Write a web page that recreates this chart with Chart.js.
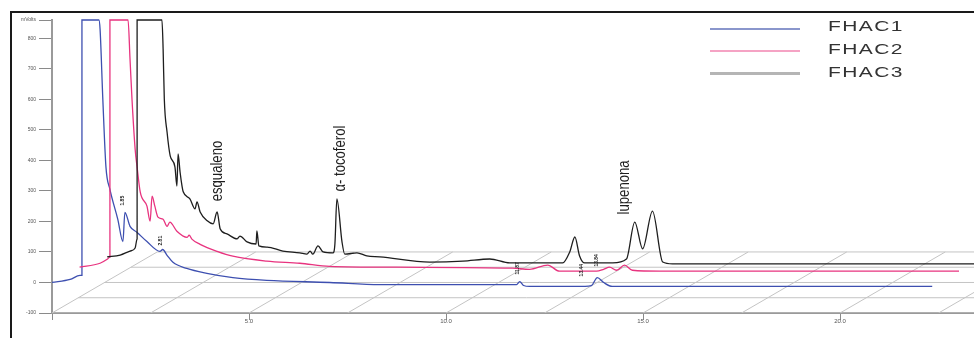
<!DOCTYPE html>
<html>
<head>
<meta charset="utf-8">
<script src="https://cdn.jsdelivr.net/npm/chart.js@4.4.1/dist/chart.umd.min.js"></script>
<style>
  html, body { margin: 0; padding: 0; background: #fff; }
  #wrap { position: relative; width: 974px; height: 338px; overflow: hidden; }
  #frame { position: absolute; left: 10px; top: 11px; width: 990px; height: 360px;
           border-left: 2px solid #1a1a1a; border-top: 2px solid #1a1a1a; }
  #box { position: absolute; left: 0; top: 0; width: 974px; height: 338px; }
  #legend { position: absolute; left: 710px; top: 0; font-family: 'Liberation Sans', Arial, sans-serif; }
  .lg-line { position: absolute; left: 0; width: 90px; }
  .lg-text { position: absolute; left: 118px; font-size: 15px; line-height: 18px;
             letter-spacing: 1px; color: #333; white-space: nowrap;
             transform: scaleX(1.4); transform-origin: left center; }
</style>
</head>
<body>
<div id="wrap">
  <div id="frame"></div>
  <div id="box"><canvas id="chart"></canvas></div>
  <div id="legend"></div>
</div>
<script>
// ---- data (retention time in min, signal in mV, each trace in its own frame) ----
const seriesNames = ['FHAC1', 'FHAC2', 'FHAC3'];
const seriesColors = ['#3d4fb0', '#e8337f', '#1e1e1e'];
const legendColors = ['#8a96cc', '#f5a3c4', '#b5b5b5'];
// 3D offset of each trace (depth)
const seriesShiftT = [0, 0.70, 1.40];
const seriesShiftV = [0, 50, 100];

const blueTimes = [0, 0.46, 0.71, 0.76, 0.76, 1.19, 1.22, 1.29, 1.37, 1.47,
  1.67, 1.80, 1.85, 1.98, 2.16, 2.41, 2.74, 2.81, 2.92, 3.07,
  3.42, 3.93, 4.59, 5.45, 7.05, 8.32, 11.79, 11.87, 11.97, 12.12,
  13.31, 13.69, 13.84, 14.0, 14.22, 22.34];
const blueValues = [0, 10, 23, 23, 860, 860, 830, 600, 377, 305,
  207, 134, 230, 184, 164, 134, 102, 108, 89, 66,
  46, 30, 16, 7, 0, -7, -7, 3, -10, -13,
  -13, -10, 16, 0, -13, -13];

const pinkTimes = [0, 0.52, 0.70, 0.77, 0.77, 1.23, 1.28, 1.33, 1.41, 1.46,
  1.54, 1.71, 1.79, 1.84, 1.91, 1.99, 2.12, 2.22, 2.29, 2.47,
  2.73, 2.78, 2.85, 3.06, 3.49, 3.89, 4.75, 5.59, 6.35, 8.05,
  10.99, 11.42, 11.88, 12.18, 13.12, 13.30, 13.45, 13.63, 13.83, 14.03,
  14.72, 22.32];
const pinkValues = [0, 13, 26, 33, 810, 810, 682, 551, 387, 328,
  246, 200, 151, 233, 200, 164, 157, 134, 148, 118,
  98, 105, 92, 75, 52, 36, 20, 13, 3, 0,
  -3, -7, 7, -13, -13, -7, 0, -10, 7, -10,
  -13, -13];

const blackTimes = [0, 0.33, 0.58, 0.71, 0.76, 0.76, 1.39, 1.42, 1.45, 1.52,
  1.60, 1.72, 1.77, 1.80, 1.85, 1.90, 1.93, 2.10, 2.23, 2.28,
  2.36, 2.54, 2.69, 2.79, 2.87, 3.04, 3.30, 3.37, 3.55, 3.78,
  3.80, 3.85, 4.06, 4.46, 4.89, 5.07, 5.15, 5.22, 5.35, 5.48,
  5.73, 5.78, 5.83, 5.96, 6.03, 6.34, 6.59, 6.92, 8.19, 9.03,
  9.71, 10.22, 11.56, 11.74, 11.87, 11.99, 12.12, 12.83, 13.18, 13.39,
  13.59, 13.84, 14.10, 14.35, 22.10];
const blackValues = [-16, -10, 3, 13, 43, 760, 760, 666, 502, 393,
  315, 279, 216, 321, 262, 216, 197, 174, 141, 164,
  131, 102, 92, 131, 75, 59, 43, 52, 33, 26,
  69, 20, 16, 3, -3, -7, 3, -7, 20, 0,
  -3, 26, 174, 33, -7, -3, -13, -16, -33, -30,
  -23, -36, -36, 0, 49, -13, -36, -36, -23, 98,
  10, 134, -33, -39, -39];

const seriesTimes = [blueTimes, pinkTimes, blackTimes];
const seriesValues = [blueValues, pinkValues, blackValues];

// named peaks (on FHAC3, own frame)
const peakNames = ['esqualeno', 'α- tocoferol', 'lupenona'];
const peakSeries = [2, 2, 2];
const peakTimes = [2.81, 5.93, 13.13];
const peakLevels = [166, 198, 123];

// small retention time marks (on FHAC1, own frame)
const rtNames = ['1.85', '2.81', '11.87', '13.44', '13.84'];
const rtTimes = [1.80, 2.76, 11.82, 13.44, 13.82];
const rtLevels = [252, 121, 26, 20, 52];

// axes
const xTickValues = [0, 5, 10, 15, 20];
const xTickLabels = ['', '5.0', '10.0', '15.0', '20.0'];
const yTickValues = [-100, 0, 100, 200, 300, 400, 500, 600, 700, 800, 860];
const yTickLabels = ['-100', '0', '100', '200', '300', '400', '500', '600', '700', '800', 'mVolts'];

// floor of the 3D view
const floorLevels = [-100, -50, 0, 50, 100];
const floorTimes = [0, 2.5, 5, 7.5, 10, 12.5, 15, 17.5, 20, 22.5];
const floorRun = 2.67;

const FONT = "'Liberation Sans', Arial, sans-serif";

// ---- datasets ----
const traceSets = seriesNames.map((name, s) => ({
  label: name,
  data: seriesTimes[s].map((t, i) => ({ x: t + seriesShiftT[s], y: seriesValues[s][i] + seriesShiftV[s] })),
  borderColor: seriesColors[s],
  borderWidth: 1.3,
  pointRadius: 0,
  cubicInterpolationMode: 'monotone',
  clip: { left: 0, top: 2, right: 0, bottom: 0 },
  order: 3 - s
}));

const floorData = [];
floorTimes.forEach(t => {
  floorData.push({ x: t, y: floorLevels[0] });
  floorData.push({ x: t + floorRun, y: floorLevels[floorLevels.length - 1] });
  floorData.push({ x: t, y: null });
});
floorLevels.forEach((lv, d) => {
  floorData.push({ x: d * floorRun / (floorLevels.length - 1), y: lv });
  floorData.push({ x: 30, y: lv });
  floorData.push({ x: 30, y: null });
});

const floorSet = {
  label: 'floor',
  data: floorData,
  borderColor: '#c4c4c4',
  borderWidth: 1,
  pointRadius: 0,
  spanGaps: false,
  order: 10
};

// ---- peak labels plugin ----
const peakText = {
  id: 'peakText',
  afterDatasetsDraw(chart) {
    const { ctx, scales: { x, y } } = chart;
    ctx.save();
    ctx.fillStyle = '#1e1e1e';
    ctx.textBaseline = 'middle';
    ctx.textAlign = 'left';
    peakNames.forEach((name, i) => {
      const s = peakSeries[i];
      const px = x.getPixelForValue(peakTimes[i] + seriesShiftT[s]);
      const py = y.getPixelForValue(peakLevels[i] + seriesShiftV[s]);
      ctx.save();
      ctx.translate(px, py);
      ctx.rotate(-Math.PI / 2);
      ctx.scale(0.82, 1);
      ctx.font = '16px ' + FONT;
      ctx.fillText(name, 0, 0);
      ctx.restore();
    });
    ctx.font = 'bold 5px ' + FONT;
    rtNames.forEach((name, i) => {
      const px = x.getPixelForValue(rtTimes[i] + seriesShiftT[0]);
      const py = y.getPixelForValue(rtLevels[i] + seriesShiftV[0]);
      ctx.save();
      ctx.translate(px, py);
      ctx.rotate(-Math.PI / 2);
      ctx.fillText(name, 0, 0);
      ctx.restore();
    });
    ctx.restore();
  }
};

const chart = new Chart(document.getElementById('chart'), {
  type: 'line',
  data: { datasets: [...traceSets, floorSet] },
  options: {
    responsive: true,
    maintainAspectRatio: false,
    animation: false,
    events: [],
    layout: { padding: { left: 12, top: 20, right: 0, bottom: 0 } },
    plugins: { legend: { display: false }, tooltip: { enabled: false } },
    scales: {
      x: {
        type: 'linear',
        min: 0,
        max: 23.4,
        afterBuildTicks: s => { s.ticks = xTickValues.map(v => ({ value: v })); },
        afterFit: s => { s.height = 25; },
        grid: { drawOnChartArea: false, drawTicks: true, tickLength: 7, color: '#8a8a8a' },
        border: { display: true, color: '#9a9a9a', width: 2 },
        ticks: {
          autoSkip: false, maxRotation: 0, padding: -2,
          color: '#555', font: { size: 6, family: FONT },
          callback: (v, i) => xTickLabels[i]
        }
      },
      y: {
        type: 'linear',
        min: -100,
        max: 860,
        afterBuildTicks: s => { s.ticks = yTickValues.map(v => ({ value: v })); },
        afterFit: s => { s.width = 40; },
        grid: { drawOnChartArea: false, drawTicks: true, tickLength: 13, color: '#8a8a8a' },
        border: { display: true, color: '#9a9a9a', width: 2 },
        ticks: {
          autoSkip: false, padding: 3,
          color: '#555', font: { size: 5, family: FONT },
          callback: (v, i) => yTickLabels[i]
        }
      }
    }
  },
  plugins: [peakText]
});

// ---- legend ----
const legend = document.getElementById('legend');
seriesNames.forEach((name, i) => {
  const line = document.createElement('div');
  line.className = 'lg-line';
  line.style.top = (28 + i * 22) + 'px';
  line.style.height = (i === 2 ? 2.5 : 1.5) + 'px';
  line.style.background = legendColors[i];
  legend.appendChild(line);
  const txt = document.createElement('div');
  txt.className = 'lg-text';
  txt.style.top = (17 + i * 23) + 'px';
  txt.textContent = name;
  legend.appendChild(txt);
});
</script>
</body>
</html>
